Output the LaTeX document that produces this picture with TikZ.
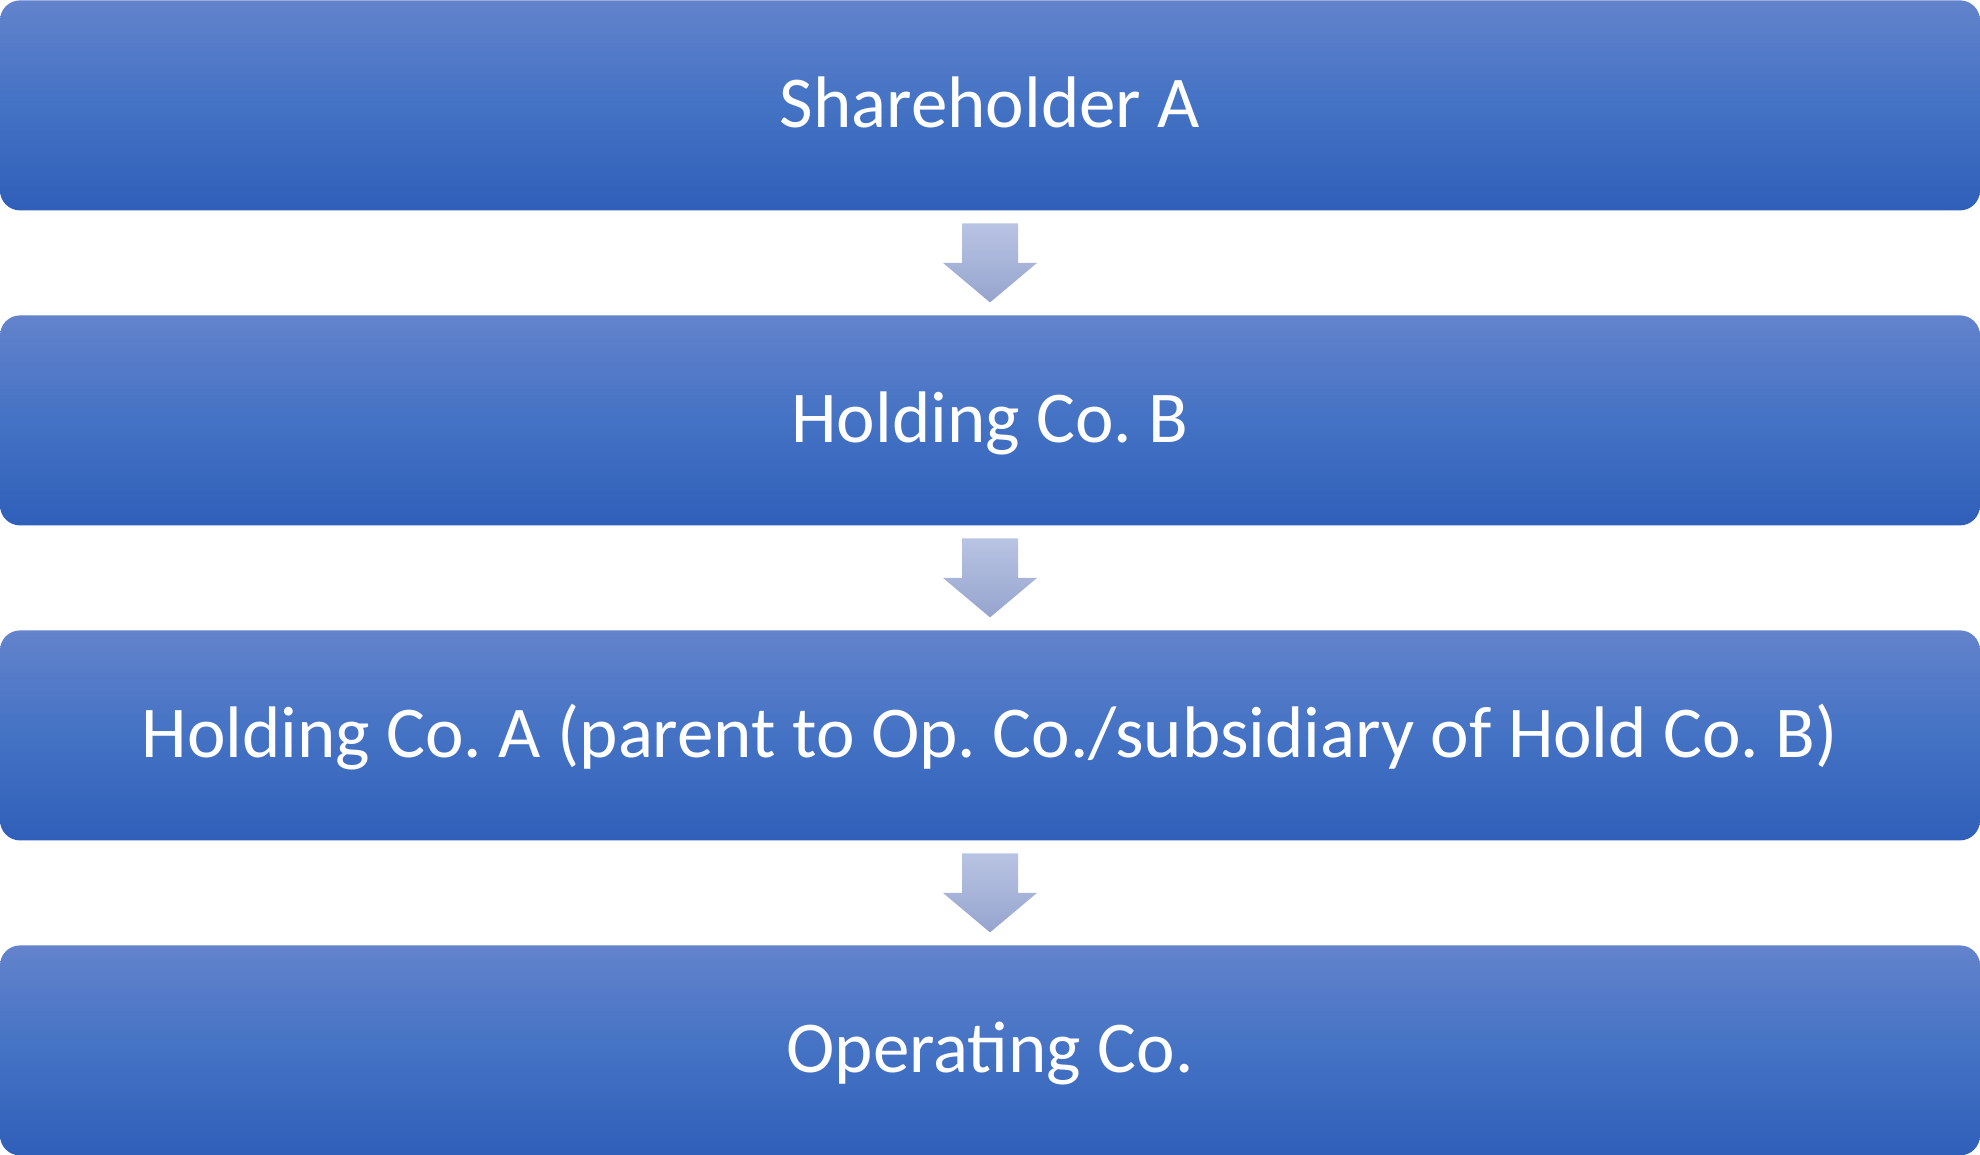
\documentclass[tikz,border=0pt]{standalone}
\usepackage{fontspec}
\setmainfont{Carlito}
\usetikzlibrary{calc}
\frenchspacing
\definecolor{boxtop}{HTML}{6383CC}
\definecolor{boxmid}{HTML}{4472C4}
\definecolor{boxbot}{HTML}{2F5FB9}
\definecolor{arrtop}{HTML}{B9C4E3}
\definecolor{arrbot}{HTML}{96A4CE}
\tikzset{
  stagebox/.style={rectangle, rounded corners=10pt, draw=none,
    minimum width=990pt, minimum height=105pt, inner sep=0pt,
    top color=boxtop, bottom color=boxbot, middle color=boxmid,
    text=white, font=\fontsize{36.5}{44}\selectfont\frenchspacing,
    text height=22pt, text depth=0pt, anchor=north},
  downarrow/.style={draw=none, top color=arrtop, bottom color=arrbot}
}
\newcommand{\flowarrow}[1]{%
  \path[downarrow] ($(#1)+(-14pt,19.75pt)$) -- ($(#1)+(14pt,19.75pt)$)
    -- ($(#1)+(14pt,0pt)$) -- ($(#1)+(23.5pt,0pt)$) -- ($(#1)+(0pt,-19.75pt)$)
    -- ($(#1)+(-23.5pt,0pt)$) -- ($(#1)+(-14pt,0pt)$) -- cycle;}
\begin{document}
\begin{tikzpicture}
\useasboundingbox (0pt,0pt) rectangle (990pt,-577.5pt);
\node[stagebox] (b1) at (495pt,0pt) {Shareholder A};
\node[stagebox] (b2) at (495pt,-157.5pt) {Holding Co. B};
\node[stagebox] (b3) at (495pt,-315pt) {Holding Co. A (parent to Op. Co./subsidiary of Hold Co. B)};
\node[stagebox] (b4) at (495pt,-472.5pt) {Operating Co.};
\coordinate (m1) at ($(b1.south)!0.5!(b2.north)$);
\coordinate (m2) at ($(b2.south)!0.5!(b3.north)$);
\coordinate (m3) at ($(b3.south)!0.5!(b4.north)$);
\flowarrow{m1}
\flowarrow{m2}
\flowarrow{m3}
\end{tikzpicture}
\end{document}
